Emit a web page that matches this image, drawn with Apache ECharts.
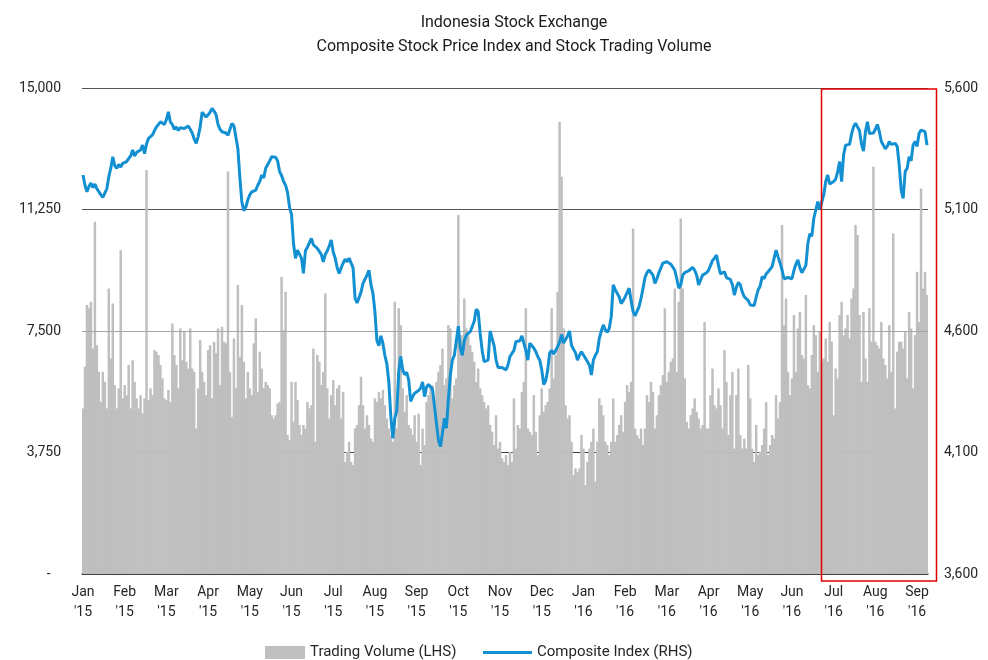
<!DOCTYPE html>
<html>
<head>
<meta charset="utf-8">
<script src="https://cdn.jsdelivr.net/npm/echarts@6/dist/echarts.min.js"></script>
<style>
  html, body { margin: 0; padding: 0; background: #fff; }
  #chart { width: 988px; height: 660px; }
</style>
</head>
<body>
<div id="chart"></div>
<script>
// 月份标签 (Jan '15 ~ Sep '16)
var monthNames = ['Jan', 'Feb', 'Mar', 'Apr', 'May', 'Jun', 'Jul', 'Aug', 'Sep', 'Oct', 'Nov', 'Dec',
  'Jan', 'Feb', 'Mar', 'Apr', 'May', 'Jun', 'Jul', 'Aug', 'Sep']
var monthYears = ["'15", "'15", "'15", "'15", "'15", "'15", "'15", "'15", "'15", "'15", "'15", "'15",
  "'16", "'16", "'16", "'16", "'16", "'16", "'16", "'16", "'16"]
// 每月交易日数
var tradingDays = [21, 21, 21, 21, 21, 21, 21, 21, 21, 21, 21, 21, 21, 21, 21, 21, 21, 21, 21, 21, 6]

// 综合指数 (RHS)
var indexValues = [
  5242, 5200, 5173, 5195, 5209, 5190, 5205, 5185, 5173, 5160, 5150, 5158, 5185, 5235, 5270, 5317, 5280, 5270, 5285, 5275, 5290,
  5295, 5297, 5310, 5320, 5345, 5320, 5335, 5330, 5345, 5365, 5330, 5370, 5393, 5400, 5407, 5425, 5440, 5450, 5461, 5455, 5450,
  5470, 5502, 5460, 5450, 5430, 5440, 5425, 5437, 5430, 5433, 5440, 5443, 5430, 5415, 5390, 5372, 5400, 5440, 5500, 5505, 5480,
  5490, 5500, 5516, 5505, 5490, 5450, 5430, 5420, 5413, 5415, 5406, 5430, 5454, 5445, 5440, 5350, 5230, 5130, 5095, 5110, 5140,
  5160, 5173, 5165, 5180, 5200, 5215, 5242, 5230, 5270, 5285, 5300, 5317, 5310, 5315, 5300, 5256, 5240, 5215, 5200, 5170, 5110,
  5080, 4960, 4899, 4933, 4930, 4900, 4837, 4930, 4945, 4950, 4981, 4955, 4950, 4940, 4935, 4915, 4885, 4915, 4930, 4950, 4975,
  4925, 4900, 4860, 4837, 4860, 4880, 4895, 4885, 4900, 4900, 4860, 4735, 4715, 4713, 4760, 4796, 4790, 4830, 4850, 4790, 4755,
  4680, 4560, 4540, 4580, 4550, 4500, 4465, 4390, 4250, 4158, 4240, 4270, 4433, 4495, 4440, 4420, 4430, 4399, 4310, 4330, 4344,
  4350, 4355, 4365, 4390, 4330, 4370, 4380, 4375, 4360, 4290, 4220, 4150, 4124, 4180, 4241, 4200, 4320, 4420, 4480, 4500, 4560,
  4620, 4530, 4500, 4560, 4583, 4590, 4597, 4600, 4640, 4690, 4680, 4590, 4520, 4474, 4475, 4480, 4600, 4600, 4540, 4480, 4450,
  4450, 4450, 4445, 4440, 4460, 4495, 4500, 4520, 4556, 4550, 4560, 4580, 4575, 4520, 4480, 4550, 4545, 4530, 4515, 4495, 4480,
  4440, 4380, 4395, 4440, 4510, 4520, 4505, 4520, 4535, 4555, 4585, 4550, 4555, 4580, 4600, 4540, 4545, 4510, 4480, 4500, 4515,
  4510, 4488, 4480, 4460, 4419, 4480, 4500, 4515, 4570, 4600, 4625, 4605, 4595, 4610, 4660, 4790, 4770, 4755, 4740, 4713, 4725,
  4740, 4734, 4776, 4725, 4680, 4662, 4660, 4700, 4734, 4776, 4820, 4840, 4851, 4848, 4830, 4796, 4815, 4840, 4860, 4879, 4884,
  4885, 4885, 4875, 4868, 4850, 4815, 4776, 4790, 4830, 4840, 4844, 4848, 4852, 4862, 4850, 4830, 4790, 4810, 4830, 4822, 4840,
  4850, 4870, 4890, 4899, 4913, 4870, 4835, 4830, 4844, 4820, 4815, 4812, 4790, 4748, 4780, 4800, 4790, 4760, 4741, 4738, 4725,
  4707, 4715, 4705, 4740, 4770, 4785, 4824, 4815, 4835, 4844, 4844, 4865, 4899, 4933, 4905, 4880, 4851, 4815, 4812, 4820, 4815,
  4815, 4850, 4875, 4893, 4860, 4840, 4835, 4870, 4960, 5000, 4990, 5064, 5098, 5132, 5100, 5105, 5160, 5215, 5242, 5205, 5212,
  5215, 5225, 5255, 5297, 5215, 5324, 5365, 5372, 5368, 5410, 5440, 5455, 5440, 5425, 5370, 5340, 5420, 5461, 5413, 5420, 5415,
  5430, 5450, 5420, 5380, 5372, 5350, 5360, 5379, 5368, 5372, 5372, 5360, 5283, 5180, 5146, 5256, 5270, 5317, 5300, 5365, 5380,
  5360, 5413, 5427, 5434, 5420, 5365
]

// 成交量 (LHS)
var volumeValues = [
  5110, 6400, 8300, 8200, 8400, 6960, 10870, 7060, 6240, 5310, 6240, 5930, 5110, 8810, 6650, 8350, 5830, 5110, 5730, 9990, 5420,
  5830, 5520, 6450, 5110, 6600, 5930, 5420, 5110, 5520, 4960, 5420, 12470, 5370, 5730, 5520, 6910, 6860, 6760, 6450, 6040, 5420,
  5370, 5680, 5310, 7730, 6760, 6450, 5730, 7580, 6600, 7480, 6550, 6340, 7580, 6340, 6240, 4490, 5730, 7220, 6240, 5930, 5520,
  6910, 7060, 5420, 7170, 6810, 7580, 5830, 7630, 7170, 7120, 12420, 6240, 4850, 7270, 5730, 8920, 6700, 8300, 6550, 5420, 6240,
  5730, 5520, 7120, 7890, 5620, 6860, 6340, 5730, 5930, 5830, 5730, 4900, 4800, 4900, 5260, 5310, 9170, 7530, 8710, 4290, 4130,
  5930, 4700, 5930, 5370, 4600, 4290, 4600, 4490, 5310, 5110, 5210, 6960, 4080, 6760, 6550, 5830, 6240, 8660, 5730, 4800, 5520,
  5980, 5210, 5730, 5830, 4800, 5620, 3460, 3770, 4080, 3460, 3360, 4490, 4600, 5210, 6090, 5210, 4490, 4900, 4600, 4180, 4080,
  5420, 5310, 5620, 5420, 5680, 5210, 4800, 4490, 4290, 4080, 8400, 4490, 8200, 7680, 5730, 5010, 5520, 4600, 4490, 4290, 4900,
  4080, 4950, 3360, 4490, 3980, 5310, 5520, 5730, 5830, 5210, 5930, 6240, 6450, 6960, 5830, 6040, 7680, 7580, 5420, 5830, 6040,
  11080, 7170, 7370, 8500, 7580, 7370, 7060, 6860, 6550, 5930, 6340, 5730, 5520, 5310, 5110, 5210, 4600, 4390, 3980, 4900, 3870,
  4080, 3570, 3460, 3670, 3360, 3770, 3460, 5420, 3870, 4600, 4490, 5620, 5930, 8200, 4490, 4390, 4290, 5520, 4390, 3670, 4900,
  5730, 5010, 5210, 5310, 5730, 8200, 6040, 6760, 8710, 13960, 12260, 7580, 5210, 4800, 4900, 4080, 3050, 3260, 3150, 3260, 4290,
  3870, 2740, 3460, 3870, 4080, 4490, 2850, 4080, 5420, 5210, 4900, 4080, 3980, 3670, 4080, 5420, 4080, 4290, 4600, 4900, 4390,
  5310, 5830, 5620, 5930, 10660, 4490, 4290, 4180, 4490, 3980, 4490, 5520, 5310, 5930, 5620, 4490, 4900, 5520, 5830, 6140, 8200,
  5930, 6240, 6550, 6650, 8810, 6240, 8400, 10970, 8810, 6040, 4700, 4490, 4900, 5110, 5420, 5010, 4800, 4490, 4600, 7780, 4490,
  4490, 5520, 6340, 5210, 5110, 5730, 5210, 4490, 6910, 5930, 4290, 5520, 6240, 3870, 5520, 6340, 4290, 3870, 4180, 3870, 6450,
  5420, 3870, 3460, 4600, 3670, 3770, 3980, 4490, 5310, 3670, 3980, 4290, 4180, 5520, 4800, 5310, 10770, 7680, 8500, 6240, 5520,
  6040, 7990, 6240, 7580, 8090, 6760, 6650, 8610, 5830, 5730, 6760, 7680, 7370, 6240, 7480, 6550, 6650, 7270, 6550, 7780, 7170,
  4900, 6340, 6040, 7990, 8400, 7370, 7580, 7990, 7270, 8500, 8810, 10770, 10460, 7990, 5930, 8090, 6650, 5930, 8200, 7170, 12570,
  7170, 7060, 6960, 7780, 6650, 6450, 6040, 7680, 6240, 10510, 5110, 6860, 7170, 7170, 6960, 7480, 6040, 8090, 7580, 5730, 7370,
  9330, 7780, 11900, 8810, 9330, 8610
]

// 生成按交易日的类目, 并记录每月第一天的位置
var categories = []
var monthStart = {}
for (let m = 0; m < monthNames.length; m++) {
  for (let d = 0; d < tradingDays[m]; d++) {
    if (d === 0) monthStart[categories.length] = true
    categories.push(monthNames[m] + '\n' + monthYears[m] + (d === 0 ? '' : ' #' + d))
  }
}

function isMonthStart (index) {
  return monthStart[index] === true
}

var fontFamily = 'Roboto, sans-serif'
var textColor = '#262626'

var chart = echarts.init(document.getElementById('chart'))
chart.setOption({
  animation: false,
  textStyle: { fontFamily: fontFamily },
  title: {
    text: 'Indonesia Stock Exchange\nComposite Stock Price Index and Stock Trading Volume',
    left: 509,
    top: 6,
    textAlign: 'center',
    textStyle: {
      fontFamily: fontFamily,
      fontSize: 16,
      fontWeight: 'normal',
      color: '#1a1a1a',
      lineHeight: 24
    }
  },
  // 图例分开放置
  legend: [
    {
      left: 260,
      top: 640,
      itemWidth: 40,
      itemHeight: 13,
      itemGap: 5,
      data: [{ name: 'Trading Volume (LHS)', icon: 'rect' }],
      textStyle: { fontFamily: fontFamily, fontSize: 15, color: textColor }
    },
    {
      left: 478,
      top: 640,
      itemWidth: 49,
      itemHeight: 3,
      data: [{ name: 'Composite Index (RHS)', icon: 'rect' }],
      textStyle: { fontFamily: fontFamily, fontSize: 15, color: textColor }
    }
  ],
  grid: {
    left: 82,
    right: 60,
    top: 88,
    bottom: 86,
    containLabel: false,
    outerBoundsMode: 'none'
  },
  xAxis: {
    type: 'category',
    data: categories,
    boundaryGap: true,
    axisLine: { lineStyle: { color: '#404040', width: 1.5 } },
    axisTick: {
      interval: isMonthStart,
      length: 5,
      lineStyle: { color: '#404040' }
    },
    axisLabel: {
      interval: isMonthStart,
      color: textColor,
      fontSize: 14,
      lineHeight: 20,
      margin: 8,
      formatter: function (value) {
        return value.split(' #')[0]
      }
    },
    splitLine: { show: false }
  },
  yAxis: [
    {
      type: 'value',
      position: 'left',
      min: 0,
      max: 15000,
      interval: 3750,
      axisLine: { show: false },
      axisTick: { show: false },
      axisLabel: {
        color: textColor,
        fontSize: 14,
        margin: 21,
        formatter: function (v) {
          return v === 0 ? '-   ' : v.toLocaleString('en-US')
        }
      },
      splitLine: {
        lineStyle: {
          color: ['#404040', '#404040', '#a6a6a6', '#555555', '#555555'],
          width: 1.2
        }
      }
    },
    {
      type: 'value',
      position: 'right',
      min: 3600,
      max: 5600,
      interval: 500,
      axisLine: { show: false },
      axisTick: { show: false },
      axisLabel: {
        color: textColor,
        fontSize: 14,
        margin: 16,
        formatter: function (v) {
          return v.toLocaleString('en-US')
        }
      },
      splitLine: { show: false }
    }
  ],
  series: [
    {
      name: 'Trading Volume (LHS)',
      type: 'bar',
      yAxisIndex: 0,
      data: volumeValues,
      barWidth: '125%',
      barGap: '-100%',
      itemStyle: { color: '#bfbfbf' },
      markLine: {
        silent: true,
        symbol: 'none',
        label: { show: false },
        lineStyle: { color: '#a6a6a6', type: 'solid', width: 1.2 },
        data: [{ yAxis: 7500 }]
      }
    },
    {
      name: 'Composite Index (RHS)',
      type: 'line',
      yAxisIndex: 1,
      data: indexValues,
      symbol: 'none',
      z: 5,
      lineStyle: { color: '#1290d2', width: 3 },
      itemStyle: { color: '#1290d2' }
    }
  ],
  // 红色标注框
  graphic: [
    {
      type: 'rect',
      shape: { x: 821.5, y: 89, width: 115, height: 492 },
      style: { fill: 'none', stroke: '#e00000', lineWidth: 1.5 },
      silent: true,
      z: 100
    }
  ]
})
</script>
</body>
</html>
